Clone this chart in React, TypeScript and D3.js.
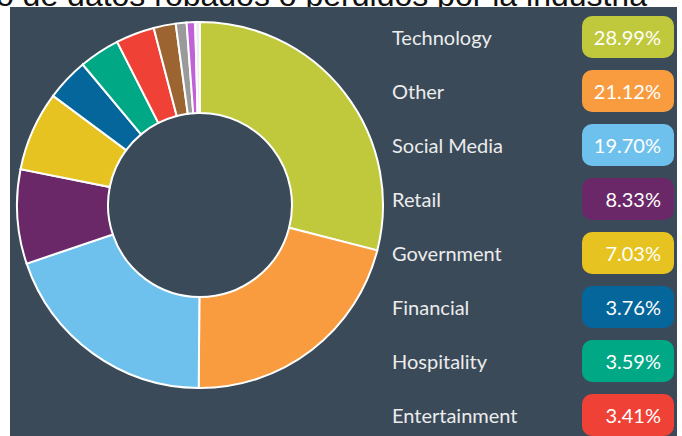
import React from "react";
import * as d3 from "d3";

const TITLE = "Número de datos robados o perdidos por la industria";

const categories = [
  "Technology",
  "Other",
  "Social Media",
  "Retail",
  "Government",
  "Financial",
  "Hospitality",
  "Entertainment",
  "Healthcare",
  "Education",
  "Telecoms",
  "Gaming",
];

const values = [28.99, 21.12, 19.7, 8.33, 7.03, 3.76, 3.59, 3.41, 1.95, 0.95, 0.75, 0.42];

const colors = [
  "#bfc93b",
  "#f99c3f",
  "#6ec1ec",
  "#6b2868",
  "#e6c320",
  "#05669b",
  "#00a886",
  "#ef4136",
  "#9b6430",
  "#9a9a9a",
  "#c061d8",
  "#eeeeee",
];

const W = 682;
const H = 436;

export default function App() {
  const data = categories.map((c, i) => ({ name: c, value: values[i], color: colors[i] }));
  const pie = d3
    .pie<any>()
    .value((d) => d.value)
    .sort(null)
    .startAngle(0)
    .endAngle(2 * Math.PI);
  const arcs = pie(data);
  const cx = 200;
  const cy = 205;
  const outerR = 183;
  const innerR = 92;
  const arcGen = d3.arc<any>().innerRadius(innerR).outerRadius(outerR);

  const legendY = d3
    .scaleBand<string>()
    .domain(categories)
    .range([16, 16 + 54 * categories.length])
    .paddingInner(0);

  const fmt = d3.format(".2f");
  const visible = data.filter((d) => (legendY(d.name) as number) + 21 < H);

  return (
    <svg
      width={W}
      height={H}
      style={{ position: "absolute", left: 0, top: 0 }}
      viewBox={`0 0 ${W} ${H}`}
    >
      <rect x={0} y={0} width={W} height={H} fill="#ffffff" />
      <text
        x={647}
        y={6}
        textAnchor="end"
        fontFamily="'Liberation Sans', Arial, sans-serif"
        fontSize={32}
        fill="#111"
      >
        {TITLE}
      </text>
      <rect x={10} y={7} width={667} height={H} fill="#3a4a59" />
      <g transform={`translate(${cx},${cy})`}>
        {arcs.map((a, i) => (
          <path key={i} d={arcGen(a) as string} fill={a.data.color} stroke="#ffffff" strokeWidth={2} />
        ))}
      </g>
      <g fontFamily="Lato, 'Open Sans', sans-serif" fontSize={20}>
        {visible.map((d) => {
          const y = legendY(d.name) as number;
          return (
            <g key={d.name}>
              <text x={392} y={y + 21} dominantBaseline="central" fill="#ececec">
                {d.name}
              </text>
              <rect x={582} y={y} width={92} height={42} rx={10} ry={10} fill={d.color} />
              <text x={661} y={y + 21} dominantBaseline="central" textAnchor="end" fill="#ffffff">
                {fmt(d.value)}%
              </text>
            </g>
          );
        })}
      </g>
    </svg>
  );
}
